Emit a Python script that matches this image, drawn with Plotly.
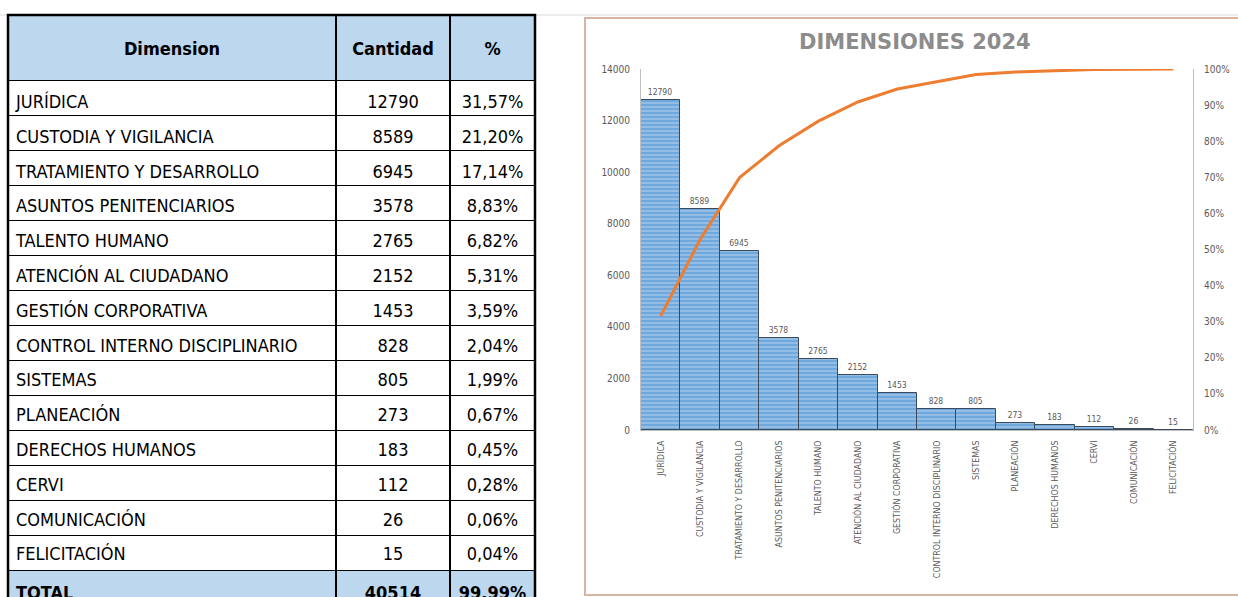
import plotly.graph_objects as go

# ---------------- data ----------------
dimensiones = ["JURÍDICA", "CUSTODIA Y VIGILANCIA", "TRATAMIENTO Y DESARROLLO",
               "ASUNTOS PENITENCIARIOS", "TALENTO HUMANO", "ATENCIÓN AL CIUDADANO",
               "GESTIÓN CORPORATIVA", "CONTROL INTERNO DISCIPLINARIO", "SISTEMAS",
               "PLANEACIÓN", "DERECHOS HUMANOS", "CERVI", "COMUNICACIÓN", "FELICITACIÓN"]
cantidad = [12790, 8589, 6945, 3578, 2765, 2152, 1453, 828, 805, 273, 183, 112, 26, 15]
porcentaje = ["31,57%", "21,20%", "17,14%", "8,83%", "6,82%", "5,31%", "3,59%",
              "2,04%", "1,99%", "0,67%", "0,45%", "0,28%", "0,06%", "0,04%"]
acumulado = [31.57, 52.77, 69.91, 78.74, 85.56, 90.87, 94.46, 96.50, 98.49,
             99.16, 99.61, 99.89, 99.95, 99.99]
total_label = "TOTAL"
total_cantidad = 40514
total_pct = "99,99%"
headers = ["Dimension", "Cantidad", "%"]
titulo = "DIMENSIONES 2024"

W, H = 1238, 597
def px(x):
    return x / W
def py(y):
    return 1 - y / H

FONT = "Liberation Sans Narrow, DejaVu Sans Condensed, sans-serif"
TAB_X = [px(8), px(535)]
COLW = [328, 114, 85]
ROW_H = 35.0
TXT_ROW_H = 34.8
HEAD_H = 65.5
TAB_TOP = 15
HEAD_SHIFT = 15   # text offset inside header cells
BODY_SHIFT = 6    # text offset inside body cells

n = len(dimensiones)
col_dim = dimensiones + [f"<b>{total_label}</b>"]
col_cant = [str(v) for v in cantidad] + [f"<b>{total_cantidad}</b>"]
col_pct = porcentaje + [f"<b>{total_pct}</b>"]
fills = ["white"] * n + ["#BDD7EE"]
blank = [""] * (n + 1)

fig = go.Figure()

# grid of the table (fills and borders)
fig.add_trace(go.Table(
    domain=dict(x=TAB_X, y=[0, py(TAB_TOP)]),
    columnwidth=COLW,
    header=dict(values=["", "", ""], fill_color="#BDD7EE",
                line=dict(color="black", width=1.5), height=HEAD_H,
                font=dict(family=FONT, size=18, color="black")),
    cells=dict(values=[blank, blank, blank], fill_color=[fills, fills, fills],
               line=dict(color="black", width=1.5), height=ROW_H,
               font=dict(family=FONT, size=18, color="black")),
))

# text of the table
fig.add_trace(go.Table(
    domain=dict(x=TAB_X, y=[0, py(TAB_TOP + HEAD_SHIFT)]),
    columnwidth=COLW,
    header=dict(
        values=[f"<b>{h}</b>" for h in headers],
        fill_color="rgba(0,0,0,0)",
        line=dict(color="rgba(0,0,0,0)", width=0),
        align="center",
        height=HEAD_H + BODY_SHIFT - HEAD_SHIFT,
        font=dict(family=FONT, size=18, color="black"),
    ),
    cells=dict(
        values=[col_dim, col_cant, col_pct],
        fill_color="rgba(0,0,0,0)",
        line=dict(color="rgba(0,0,0,0)", width=0),
        align=["left", "center", "center"],
        height=TXT_ROW_H,
        font=dict(family=FONT, size=18, color="black"),
    ),
))

fig.add_trace(go.Bar(
    x=dimensiones, y=cantidad,
    text=[str(v) for v in cantidad], textposition="outside",
    textfont=dict(size=8.5, color="#595959", family=FONT),
    cliponaxis=False,
    marker=dict(color="#6FA8DC",
                line=dict(color="#3A4A5A", width=1),
                pattern=dict(shape="-", fgcolor="#D6E6F5", size=4, solidity=0.35)),
    width=1.0,
    xaxis="x", yaxis="y",
    showlegend=False,
))

fig.add_trace(go.Scatter(
    x=dimensiones, y=acumulado, mode="lines",
    line=dict(color="#ED7D31", width=3),
    xaxis="x", yaxis="y2",
    showlegend=False,
))

fig.update_layout(
    width=W, height=H, autosize=False,
    margin=dict(l=0, r=0, t=0, b=0, pad=0, autoexpand=False),
    paper_bgcolor="white", plot_bgcolor="white",
    bargap=0,
    xaxis=dict(domain=[px(641), px(1193)], tickangle=-90,
               tickfont=dict(size=8.8, color="#595959", family=FONT),
               showline=True, linecolor="#BFBFBF", ticks="", showgrid=False,
               ticklabelstandoff=6, anchor="y", automargin=False),
    yaxis=dict(domain=[py(430), py(69)], range=[0, 14000], dtick=2000, tickformat="d",
               showgrid=False, showline=True, linecolor="#BFBFBF", ticks="",
               tickfont=dict(size=10, color="#595959", family=FONT),
               ticklabelstandoff=8, zeroline=False, automargin=False),
    yaxis2=dict(overlaying="y", side="right", range=[0, 100], dtick=10,
                ticksuffix="%", showgrid=False, showline=True, linecolor="#BFBFBF",
                ticks="", zeroline=False, anchor="x", automargin=False,
                tickfont=dict(size=10, color="#595959", family=FONT),
                ticklabelstandoff=8),
    annotations=[dict(text=f"<b>{titulo}</b>", x=px(915), y=py(42), xref="paper", yref="paper",
                      showarrow=False, xanchor="center", yanchor="middle",
                      font=dict(size=21, color="#8C8C8C", family="DejaVu Sans, sans-serif"))],
    shapes=[
        dict(type="line", xref="paper", yref="paper", x0=0, x1=1, y0=py(15), y1=py(15),
             line=dict(color="#DADADA", width=1), layer="below"),
        dict(type="rect", xref="paper", yref="paper", x0=px(585), x1=px(1240),
             y0=py(595), y1=py(18), line=dict(color="#D6B6A2", width=2)),
        dict(type="rect", xref="paper", yref="paper", x0=px(8), x1=px(535),
             y0=py(605), y1=py(15), line=dict(color="black", width=2.5)),
    ],
)

fig.write_html("out.html")
